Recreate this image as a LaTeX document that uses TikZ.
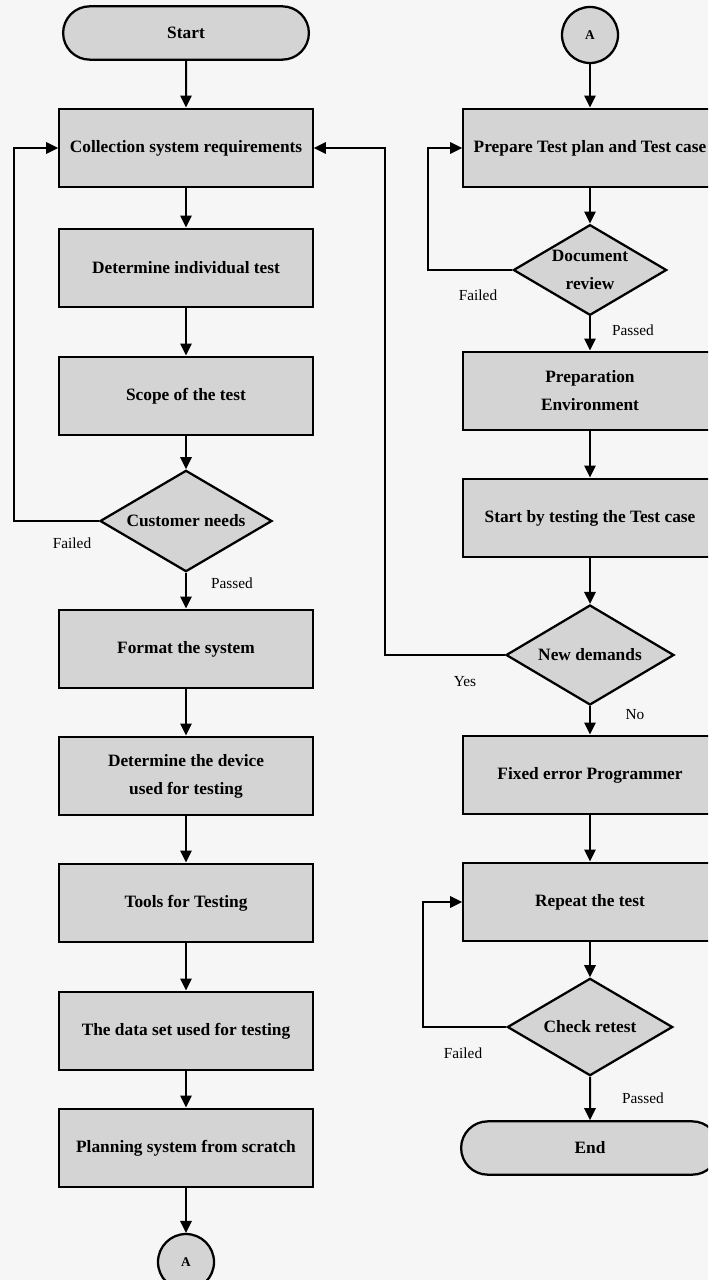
\documentclass[tikz,border=0pt]{standalone}
\usepackage{fontspec}
\setmainfont{Liberation Serif}
\usetikzlibrary{shapes.geometric,shapes.misc,arrows.meta}
\definecolor{boxgray}{RGB}{212,212,212}
\definecolor{paper}{RGB}{246,246,246}

\begin{document}
\begin{tikzpicture}
	[x=0.75pt, y=-0.75pt,
		block/.style		={rectangle, draw=black, line width=1.7pt, fill=boxgray,
									minimum width=190pt, minimum height=59pt,
									align=center, font=\bfseries\fontsize{13}{21}\selectfont},
		terminal/.style	={rounded rectangle, draw=black, line width=1.7pt, fill=boxgray,
									minimum width=191pt, minimum height=40pt,
									font=\bfseries\fontsize{13}{21}\selectfont},
		decision/.style	={diamond, draw=black, line width=1.7pt, fill=boxgray,
									aspect=1.7, inner sep=0pt, align=center,
									font=\bfseries\fontsize{13}{21}\selectfont},
		connector/.style	={circle, draw=black, line width=1.7pt, fill=boxgray,
									minimum size=42pt, inner sep=0pt,
									font=\bfseries\fontsize{10}{12}\selectfont},
		line/.style		 	={draw, line width=1.5pt, -{Triangle[length=9pt,width=8.5pt]}},
		note/.style			={font=\fontsize{11.5}{13}\selectfont}
	]
\useasboundingbox (0,0) rectangle (708,1280);
\clip (0,0) rectangle (708,1280);
\fill [paper] (0,0) rectangle (708,1280);

% left column
\node [terminal] (start)		at (186,33)		{Start};
\node [block] (collect)			at (186,148)	{Collection system requirements};
\node [block] (individual)		at (186,268)	{Determine individual test};
\node [block] (scope)			at (186,396)	{Scope of the test};
\node [decision, minimum width=129pt, minimum height=76pt]
									(customer)	at (186,521)	{Customer needs};
\node [block] (format)			at (186,649)	{Format the system};
\node [block] (device)			at (186,776)	{Determine the device\\used for testing};
\node [block] (tools)			at (186,903)	{Tools for Testing};
\node [block] (dataset)			at (186,1031)	{The data set used for testing};
\node [block] (planning)		at (186,1148)	{Planning system from scratch};
\node [connector] (A out)		at (186,1262)	{A};

% right column
\node [connector] (A in)		at (590,35)		{A};
\node [block] (prepare)			at (590,148)	{Prepare Test plan and Test case};
\node [decision, minimum width=115pt, minimum height=68pt]
									(review)		at (590,270)	{Document\\review};
\node [block] (environment)	at (590,391)	{Preparation\\Environment};
\node [block] (testing)			at (590,518)	{Start by testing the Test case};
\node [decision, minimum width=126pt, minimum height=75pt]
									(demands)	at (590,655)	{New demands};
\node [block] (fixed)			at (590,775)	{Fixed error Programmer};
\node [block] (repeat)			at (590,902)	{Repeat the test};
\node [decision, minimum width=124pt, minimum height=73pt]
									(retest)		at (590,1027)	{Check retest};
\node [terminal, minimum width=200pt] (end)	at (590,1148)	{End};

% labels
\node [note] (failed 1)	at (72,543)		{Failed};
\node [note] (passed 1)	at (232,583)	{Passed};
\node [note] (failed 2)	at (478,295)	{Failed};
\node [note] (passed 2)	at (633,330)	{Passed};
\node [note] (yes)			at (465,682)	{Yes};
\node [note] (no)			at (635,715)	{No};
\node [note] (failed 3)	at (463,1053)	{Failed};
\node [note] (passed 3)	at (643,1098)	{Passed};

% loop corners
\coordinate (needs turn)	at (14,521);
\coordinate (review turn)	at (428,270);
\coordinate (demands turn)	at (385,655);
\coordinate (retest turn)	at (423,1027);

\begin{scope}[every path/.style=line]

	\path		(start)			-- (collect);
	\path		(collect)		-- (individual);
	\path		(individual)	-- (scope);
	\path		(scope)			-- (customer);
	\path		(customer)		-- (format);
	\path		(format)		-- (device);
	\path		(device)		-- (tools);
	\path		(tools)			-- (dataset);
	\path		(dataset)		-- (planning);
	\path		(planning)		-- (A out);

	\path		(customer.west)	-- (needs turn) |- (collect.west);

	\path		(A in)			-- (prepare);
	\path		(prepare)		-- (review);
	\path		(review)		-- (environment);
	\path		(environment)	-- (testing);
	\path		(testing)		-- (demands);
	\path		(demands)		-- (fixed);
	\path		(fixed)			-- (repeat);
	\path		(repeat)		-- (retest);
	\path		(retest)		-- (end);

	\path		(review.west)	-- (review turn) |- (prepare.west);
	\path		(demands.west)	-- (demands turn) |- (collect.east);
	\path		(retest.west)	-- (retest turn) |- (repeat.west);
\end{scope}
\end{tikzpicture}
\end{document}
